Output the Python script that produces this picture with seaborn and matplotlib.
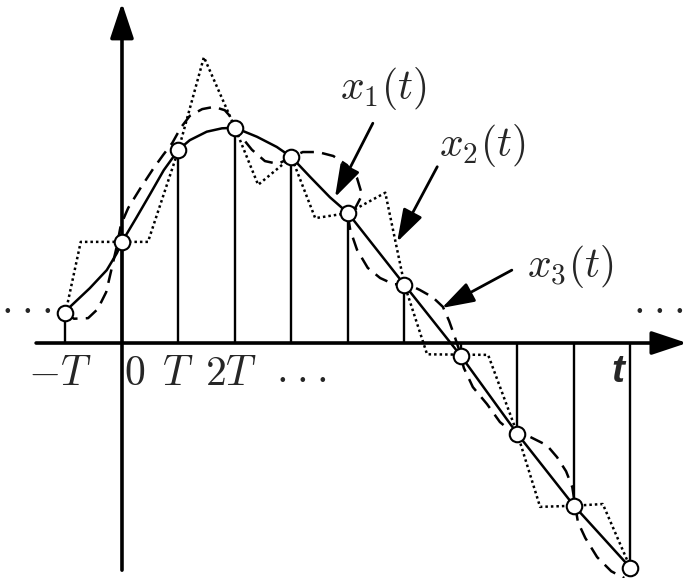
import matplotlib
matplotlib.use("Agg")
import matplotlib.pyplot as plt
import numpy as np
import pandas as pd
import seaborn as sns

# Sample instants (in units of T) and sample values
sample_t = [-1, 0, 1, 2, 3, 4, 5, 6, 7, 8, 9]
sample_x = [0.53, 1.79, 3.42, 3.81, 3.29, 2.30, 1.03, -0.23, -1.61, -2.88, -3.98]

# x1(t): smooth solid curve through the samples
x1_t = [-1, -0.92, -0.57, -0.27, -0.09, 0, 0.25, 0.50, 0.74, 1, 1.20, 1.50,
        1.77, 2, 2.39, 2.74, 3, 3.33, 3.68, 4, 5, 6, 7, 8, 9]
x1_v = [0.53, 0.64, 0.97, 1.29, 1.59, 1.79, 2.21, 2.64, 3.06, 3.42, 3.59, 3.74,
        3.80, 3.81, 3.65, 3.47, 3.29, 2.94, 2.58, 2.30, 1.03, -0.23, -1.61,
        -2.88, -3.98]

# x2(t): dotted polyline
x2_t = [-1, -0.73, 0.46, 1, 1.45, 2, 2.41, 3, 3.42, 4, 4.66, 5, 5.40, 6.48,
        7, 7.40, 8, 8.51, 9]
x2_v = [0.53, 1.79, 1.79, 3.42, 5.06, 3.81, 2.80, 3.29, 2.21, 2.30, 2.66, 1.03,
        -0.20, -0.21, -1.61, -2.90, -2.88, -2.85, -3.98]

# x3(t): dashed curve with overshoots
x3_t = [-1, -0.85, -0.60, -0.43, -0.28, -0.18, -0.09, -0.02, 0.11, 0.32, 0.55,
        0.73, 0.89, 1.04, 1.20, 1.42, 1.63, 1.82, 1.97, 2.09, 2.30, 2.53, 2.76,
        3, 3.20, 3.47, 3.74, 3.98, 4.16, 4.25, 4.14, 4.0, 4.04, 4.16, 4.35,
        4.57, 4.81, 5.06, 5.27, 5.50, 5.68, 5.79, 5.89, 5.98, 6.05, 6.21, 6.46,
        6.69, 6.92, 7.22, 7.52, 7.70, 7.86, 7.97, 8.02, 8.07, 8.20, 8.41, 8.66,
        8.89]
x3_v = [0.53, 0.43, 0.44, 0.60, 0.90, 1.33, 1.72, 2.09, 2.39, 2.73, 3.08, 3.33,
        3.54, 3.81, 4.02, 4.14, 4.18, 4.12, 3.95, 3.68, 3.42, 3.22, 3.17, 3.29,
        3.38, 3.38, 3.31, 3.15, 2.92, 2.62, 2.41, 2.25, 2.00, 1.65, 1.33, 1.15,
        1.04, 1.04, 0.94, 0.81, 0.64, 0.39, 0.11, -0.16, -0.44, -0.78, -1.08,
        -1.40, -1.59, -1.66, -1.81, -2.02, -2.27, -2.55, -2.87, -3.17, -3.45,
        -3.79, -4.04, -4.16]

tick_labels = [r"$-T$", r"$0$", r"$T$", r"$2T$"]
tick_pos = [-1.10, 0.23, 0.99, 1.93]

# "..." continuation marks: centre of each group
ellipsis_pos = [(3.17, -0.58), (-1.70, 0.64), (9.49, 0.64)]

curve_labels = [r"$x_1(t)$", r"$x_2(t)$", r"$x_3(t)$"]
label_pos = [(4.62, 4.51), (6.37, 3.50), (7.93, 1.35)]
arrow_from = [(4.44, 3.89), (5.58, 3.12), (6.90, 1.29)]
arrow_to = [(3.77, 2.58), (4.87, 1.79), (5.66, 0.62)]

sns.set_theme(style="white")
plt.rcParams["font.family"] = ["DejaVu Sans"]
plt.rcParams["mathtext.fontset"] = "cm"

fig = plt.figure(figsize=(6.88, 5.78), dpi=100)
ax = fig.add_axes([0, 0, 1, 1])
ax.set_xlim(-2.159, 10.018)
ax.set_ylim(-4.159, 6.071)
ax.axis("off")

# axes with arrow heads
axis_arrow = dict(arrowstyle="-|>,head_length=1.08,head_width=0.36",
                  mutation_scale=20, lw=2.6, color="black",
                  shrinkA=0, shrinkB=0)
ax.annotate("", xy=(10.0, 0), xytext=(-1.52, 0), arrowprops=axis_arrow)
ax.annotate("", xy=(0, 6.02), xytext=(0, -4.02), arrowprops=axis_arrow)

# stems
ax.vlines(sample_t, 0, sample_x, colors="black", lw=1.7, zorder=2)

df1 = pd.DataFrame({"t": x1_t, "x": x1_v})
df2 = pd.DataFrame({"t": x2_t, "x": x2_v})
df3 = pd.DataFrame({"t": x3_t, "x": x3_v})
sns.lineplot(data=df1, x="t", y="x", sort=False, estimator=None, ax=ax,
             color="black", lw=1.8, zorder=3)
sns.lineplot(data=df2, x="t", y="x", sort=False, estimator=None, ax=ax,
             color="black", lw=1.8, linestyle=(0, (1, 1.2)), zorder=3)
sns.lineplot(data=df3, x="t", y="x", sort=False, estimator=None, ax=ax,
             color="black", lw=1.8, linestyle=(0, (5.5, 3.3)), zorder=3)

samples = pd.DataFrame({"t": sample_t, "x": sample_x})
sns.scatterplot(data=samples, x="t", y="x", ax=ax, s=125, color="white",
                edgecolor="black", linewidth=1.5, zorder=5)
ax.set_xlabel("")
ax.set_ylabel("")

# tick labels under the time axis
for lab, pos in zip(tick_labels, tick_pos):
    ax.text(pos, -0.53, lab, fontsize=30, ha="center", va="center")

# three separate dots for each ellipsis
for cx, cy in ellipsis_pos:
    for k in (-1, 0, 1):
        ax.text(cx + k * 0.35, cy, r"$\cdot$", fontsize=30,
                ha="center", va="center")

ax.text(8.78, -0.51, "t", fontsize=28, ha="center", va="center",
        family="Liberation Sans", style="italic", weight="bold")

# curve labels and pointers
for lab, lp, a0, a1 in zip(curve_labels, label_pos, arrow_from, arrow_to):
    ax.text(lp[0], lp[1], lab, fontsize=30, ha="center", va="center")
    ax.annotate("", xy=a1, xytext=a0,
                arrowprops=dict(arrowstyle="-|>,head_length=1.0,head_width=0.32",
                                mutation_scale=20, lw=2.0, color="black",
                                shrinkA=0, shrinkB=0))

fig.savefig("out.png", dpi=100)
